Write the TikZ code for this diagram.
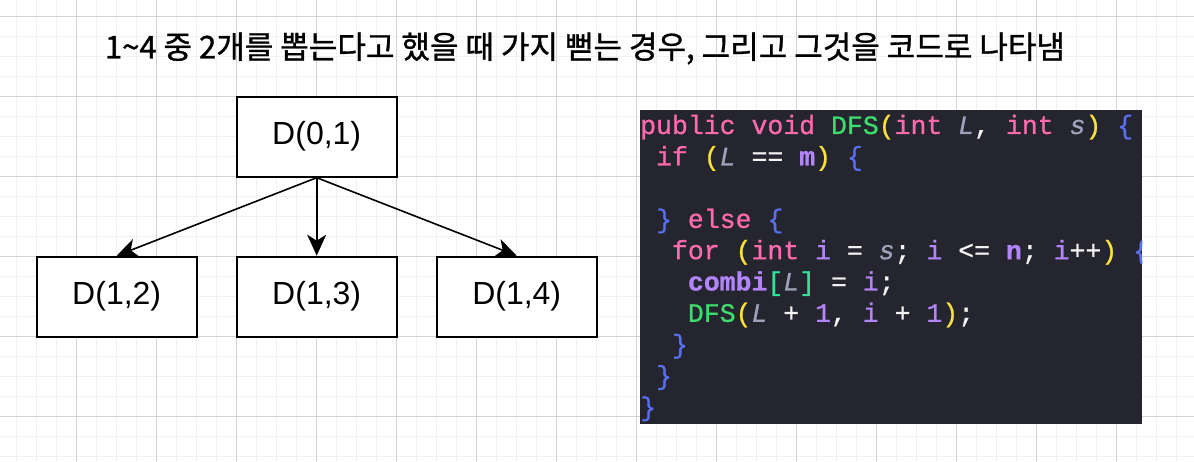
\documentclass[tikz,border=0pt]{standalone}
\usepackage{fontspec}
\usepackage{graphicx}
\setmainfont{Liberation Sans}
\setmonofont{Liberation Mono}[FakeBold=0.8]
\newfontfamily\krfont{Noto Sans CJK KR}[FakeBold=1]
\usetikzlibrary{arrows.meta}
\definecolor{gridminor}{HTML}{F1F1F1}
\definecolor{gridmajor}{HTML}{D3D3D3}
\definecolor{codebg}{HTML}{25252F}
\definecolor{ckw}{HTML}{FF6AAE}
\definecolor{cfn}{HTML}{3EDC6C}
\definecolor{cpa}{HTML}{F8E23A}
\definecolor{cbr}{HTML}{5A6EF0}
\definecolor{cpu}{HTML}{B385FA}
\definecolor{cva}{HTML}{9EA2B8}
\definecolor{ctx}{HTML}{F2F2F2}
\definecolor{cbk}{HTML}{2EE39A}
\newcommand\kw[1]{\textcolor{ckw}{#1}}
\newcommand\fn[1]{\textcolor{cfn}{#1}}
\newcommand\pa[1]{\textcolor{cpa}{#1}}
\newcommand\br[1]{\textcolor{cbr}{#1}}
\newcommand\pu[1]{\textcolor{cpu}{#1}}
\newcommand\pub[1]{\textcolor{cpu}{\bfseries #1}}
\newcommand\va[1]{\textcolor{cva}{\itshape #1}}
\newcommand\tx[1]{\textcolor{ctx}{#1}}
\newcommand\tsp{\hspace*{0.6em}}
\tikzset{
  minorline/.style={draw=gridminor, line width=1.3pt},
  majorline/.style={draw=gridmajor, line width=0.9pt},
  treebox/.style={draw=black, fill=white, line width=2pt, minimum width=160pt, minimum height=80pt, inner sep=0pt, font=\fontsize{32}{38}\selectfont},
  treearrow/.style={draw=black, line width=1.6pt, -{Stealth[length=21pt,width=19pt,inset=6pt]}},
  codeline/.style={anchor=base west, inner sep=0pt, font=\ttfamily\fontsize{26.5}{31}\selectfont}
}
\begin{document}
\begin{tikzpicture}[x=1pt,y=-1pt]
\useasboundingbox (0,0) rectangle (1194,462);
\fill[white] (0,0) rectangle (1194,462);
% grid
\foreach \i in {0,...,60} {\draw[minorline] ({-3.3+20*\i},0) -- ++(0,462);}
\foreach \j in {0,...,24} {\draw[minorline] (0,{-3.3+20*\j}) -- ++(1194,0);}
\foreach \i in {0,...,15} {\draw[majorline] ({-3.3+80*\i},0) -- ++(0,462);}
\foreach \j in {0,...,5} {\draw[majorline] (0,{16.7+80*\j}) -- ++(1194,0);}
% title
\node[anchor=base, inner sep=0pt] (title) at (585,58.5) {\resizebox{960pt}{\height}{\krfont\fontsize{31.5}{36}\selectfont 1\textasciitilde4 중 2개를 뽑는다고 했을 때 가지 뻗는 경우, 그리고 그것을 코드로 나타냄}};
% tree
\node[treebox] (d01) at (316.7,136.7) {D(0,1)};
\node[treebox] (d12) at (116.7,296.7) {D(1,2)};
\node[treebox] (d13) at (316.7,296.7) {D(1,3)};
\node[treebox] (d14) at (516.7,296.7) {D(1,4)};
\draw[treearrow] (d01.south) -- (d12.north);
\draw[treearrow] (d01.south) -- (d13.north);
\draw[treearrow] (d01.south) -- (d14.north);
% code
\node[fill=codebg, minimum width=502pt, minimum height=314pt, inner sep=0pt, anchor=north west] (code) at (640,110) {};
\begin{scope}
\clip (code.north west) rectangle (code.south east);
\node[codeline] (c1) at (640,134) {\kw{public} \kw{void} \fn{DFS}\pa{(}\kw{int} \va{L}\tx{,} \kw{int} \va{s}\pa{)} \br{\{}};
\node[codeline] (c2) at (640,165.3) {\tsp\kw{if} \pa{(}\va{L} \tx{==} \pub{m}\pa{)} \br{\{}};
\node[codeline] (c4) at (640,227.9) {\tsp\br{\}} \kw{else} \br{\{}};
\node[codeline] (c5) at (640,259.2) {\tsp\tsp\kw{for} \pa{(}\kw{int} \pu{i} \tx{=} \va{s}\tx{;} \pu{i} \tx{<=} \pub{n}\tx{;} \pu{i}\tx{++}\pa{)} \br{\{}};
\node[codeline] (c6) at (640,290.5) {\tsp\tsp\tsp\pub{combi}\textcolor{cbk}{[}\va{L}\textcolor{cbk}{]} \tx{=} \pu{i}\tx{;}};
\node[codeline] (c7) at (640,321.8) {\tsp\tsp\tsp\fn{DFS}\pa{(}\va{L} \tx{+} \pu{1}\tx{,} \pu{i} \tx{+} \pu{1}\pa{)}\tx{;}};
\node[codeline] (c8) at (640,353.1) {\tsp\tsp\br{\}}};
\node[codeline] (c9) at (640,384.4) {\tsp\br{\}}};
\node[codeline] (c10) at (640,415.7) {\br{\}}};
\end{scope}
\end{tikzpicture}
\end{document}
